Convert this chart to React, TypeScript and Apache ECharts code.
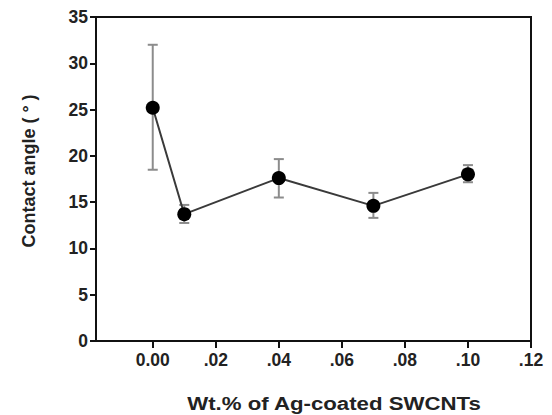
import React, { useEffect, useRef } from "react";
import * as echarts from "echarts";

const xValues = [0.0, 0.01, 0.04, 0.07, 0.1];
const meanAngle = [25.2, 13.7, 17.6, 14.6, 18.0];
const errLow = [18.5, 12.75, 15.5, 13.3, 17.15];
const errHigh = [32.0, 14.7, 19.65, 16.0, 19.0];
const xTickValues = [0, 0.02, 0.04, 0.06, 0.08, 0.1, 0.12];
const xTickLabels = ["0.00", ".02", ".04", ".06", ".08", ".10", ".12"];

const FONT = '"Liberation Sans", Arial, sans-serif';

export default function App() {
  const ref = useRef<HTMLDivElement>(null);
  useEffect(() => {
    if (!ref.current) return;
    const chart = echarts.init(ref.current, null, { renderer: "svg" });
    const lineData = xValues.map((x, i) => [x, meanAngle[i]]);
    const errData = xValues.map((x, i) => [x, errLow[i], errHigh[i]]);
    chart.setOption({
      animation: false,
      backgroundColor: "#ffffff",
      grid: {
        left: 96,
        top: 17,
        right: 21,
        bottom: 74,
        show: true,
        borderColor: "#111",
        borderWidth: 2,
        backgroundColor: "transparent",
      },
      xAxis: {
        type: "value",
        min: -0.018,
        max: 0.12,
        splitLine: { show: false },
        axisLine: { show: true, onZero: false, lineStyle: { color: "#111", width: 2 } },
        axisTick: {
          show: true,
          length: 7,
          lineStyle: { color: "#111", width: 2 },
          customValues: xTickValues,
        },
        axisLabel: {
          customValues: xTickValues,
          formatter: (v: number) => {
            const idx = xTickValues.findIndex((t) => Math.abs(t - v) < 1e-9);
            return idx >= 0 ? xTickLabels[idx] : "";
          },
          color: "#222",
          fontWeight: "bold",
          fontSize: 17.5,
          fontFamily: FONT,
          margin: 10,
        },
      },
      yAxis: {
        type: "value",
        min: 0,
        max: 35,
        interval: 5,
        splitLine: { show: false },
        axisLine: { show: true, onZero: false, lineStyle: { color: "#111", width: 2 } },
        axisTick: { show: true, length: 6, lineStyle: { color: "#111", width: 2 } },
        axisLabel: {
          color: "#222",
          fontWeight: "bold",
          fontSize: 17.5,
          fontFamily: FONT,
          margin: 8,
        },
      },
      graphic: [
        {
          type: "text",
          x: 334,
          y: 403,
          scaleX: 1.17,
          style: {
            text: "Wt.% of Ag-coated SWCNTs",
            fill: "#222",
            font: `bold 19px ${FONT}`,
            textAlign: "center",
            textVerticalAlign: "middle",
          },
        },
        {
          type: "text",
          x: 29,
          y: 171,
          rotation: Math.PI / 2,
          style: {
            text: "Contact angle ( ° )",
            fill: "#222",
            font: `bold 18px ${FONT}`,
            textAlign: "center",
            textVerticalAlign: "middle",
          },
        },
      ],
      series: [
        {
          type: "custom",
          data: errData,
          z: 1,
          renderItem: (params: any, api: any) => {
            const x = api.value(0);
            const lo = api.coord([x, api.value(1)]);
            const hi = api.coord([x, api.value(2)]);
            const hw = 5;
            const style = { stroke: "#8c8c8c", lineWidth: 2 };
            return {
              type: "group",
              children: [
                { type: "line", shape: { x1: lo[0], y1: lo[1], x2: hi[0], y2: hi[1] }, style },
                { type: "line", shape: { x1: lo[0] - hw, y1: lo[1], x2: lo[0] + hw, y2: lo[1] }, style },
                { type: "line", shape: { x1: hi[0] - hw, y1: hi[1], x2: hi[0] + hw, y2: hi[1] }, style },
              ],
            };
          },
        },
        {
          type: "line",
          data: lineData,
          z: 2,
          symbol: "circle",
          symbolSize: 14,
          lineStyle: { color: "#3a3a3a", width: 2 },
          itemStyle: { color: "#000" },
        },
      ],
    });
    return () => chart.dispose();
  }, []);
  return (
    <div
      ref={ref}
      style={{ position: "absolute", left: 0, top: 0, width: 552, height: 415 }}
    />
  );
}
